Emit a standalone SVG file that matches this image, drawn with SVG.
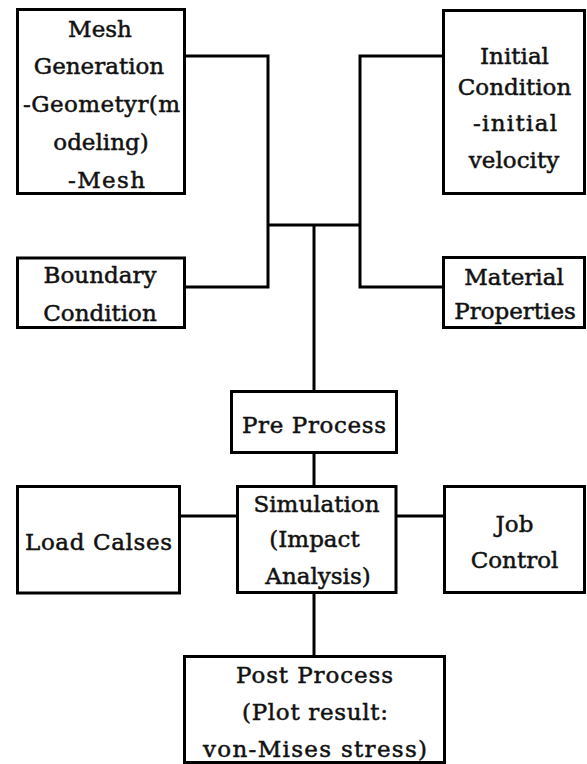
<svg xmlns="http://www.w3.org/2000/svg" width="587" height="764" viewBox="0 0 587 764">
<style>
.box{fill:#fff;stroke:#000;stroke-width:3}
.con{fill:none;stroke:#000;stroke-width:3}
text{font-family:"DejaVu Serif","Liberation Serif",serif;font-size:23px;fill:#111;stroke:#111;stroke-width:0.5;text-anchor:middle}
</style>
<rect width="587" height="764" fill="#fff"/>
<g id="connectors">
<polyline class="con" points="184.5,56 268,56 268,287 184.5,287"/>
<polyline class="con" points="443.5,56 360,56 360,287 443.5,287"/>
<line class="con" x1="268" y1="225" x2="360" y2="225"/>
<line class="con" x1="314" y1="225" x2="314" y2="391.5"/>
<line class="con" x1="314" y1="452.5" x2="314" y2="486.5"/>
<line class="con" x1="179.5" y1="516" x2="237.5" y2="516"/>
<line class="con" x1="396" y1="516" x2="444.5" y2="516"/>
<line class="con" x1="314" y1="592.5" x2="314" y2="656.5"/>
</g>
<g id="mesh">
<rect class="box" x="17.5" y="9.5" width="167" height="184"/>
<text x="100" y="36.5">Mesh</text>
<text x="99" y="74">Generation</text>
<text x="101.5" y="112" textLength="157">-Geometyr(m</text>
<text x="101" y="150">odeling)</text>
<text x="106.5" y="188" textLength="77">-Mesh</text>
</g>
<g id="initial">
<rect class="box" x="443.5" y="10.5" width="141" height="183"/>
<text x="514.5" y="64">Initial</text>
<text x="514.5" y="95">Condition</text>
<text x="515" y="131" textLength="84">-initial</text>
<text x="514" y="168">velocity</text>
</g>
<g id="boundary">
<rect class="box" x="17.5" y="258" width="167" height="69.5"/>
<text x="100" y="283">Boundary</text>
<text x="100" y="320.5">Condition</text>
</g>
<g id="material">
<rect class="box" x="443.5" y="257.5" width="141" height="70"/>
<text x="514" y="285">Material</text>
<text x="515" y="319">Properties</text>
</g>
<g id="preprocess">
<rect class="box" x="231.5" y="391.5" width="165" height="61"/>
<text x="314" y="433" textLength="144">Pre Process</text>
</g>
<g id="loadcases">
<rect class="box" x="17.5" y="486.5" width="162" height="106.5"/>
<text x="98.5" y="550" textLength="147">Load Calses</text>
</g>
<g id="simulation">
<rect class="box" x="237.5" y="486.5" width="158.5" height="106"/>
<text x="316.5" y="511.5">Simulation</text>
<text x="314.5" y="547">(Impact</text>
<text x="318" y="583.5">Analysis)</text>
</g>
<g id="jobcontrol">
<rect class="box" x="444.5" y="486.5" width="140" height="106"/>
<text x="514.5" y="531.5">Job</text>
<text x="514.5" y="568">Control</text>
</g>
<g id="postprocess">
<rect class="box" x="184.5" y="656.5" width="260" height="106"/>
<text x="314.5" y="683" textLength="157">Post Process</text>
<text x="315" y="720" textLength="146">(Plot result:</text>
<text x="315" y="757" textLength="224">von-Mises stress)</text>
</g>
</svg>
